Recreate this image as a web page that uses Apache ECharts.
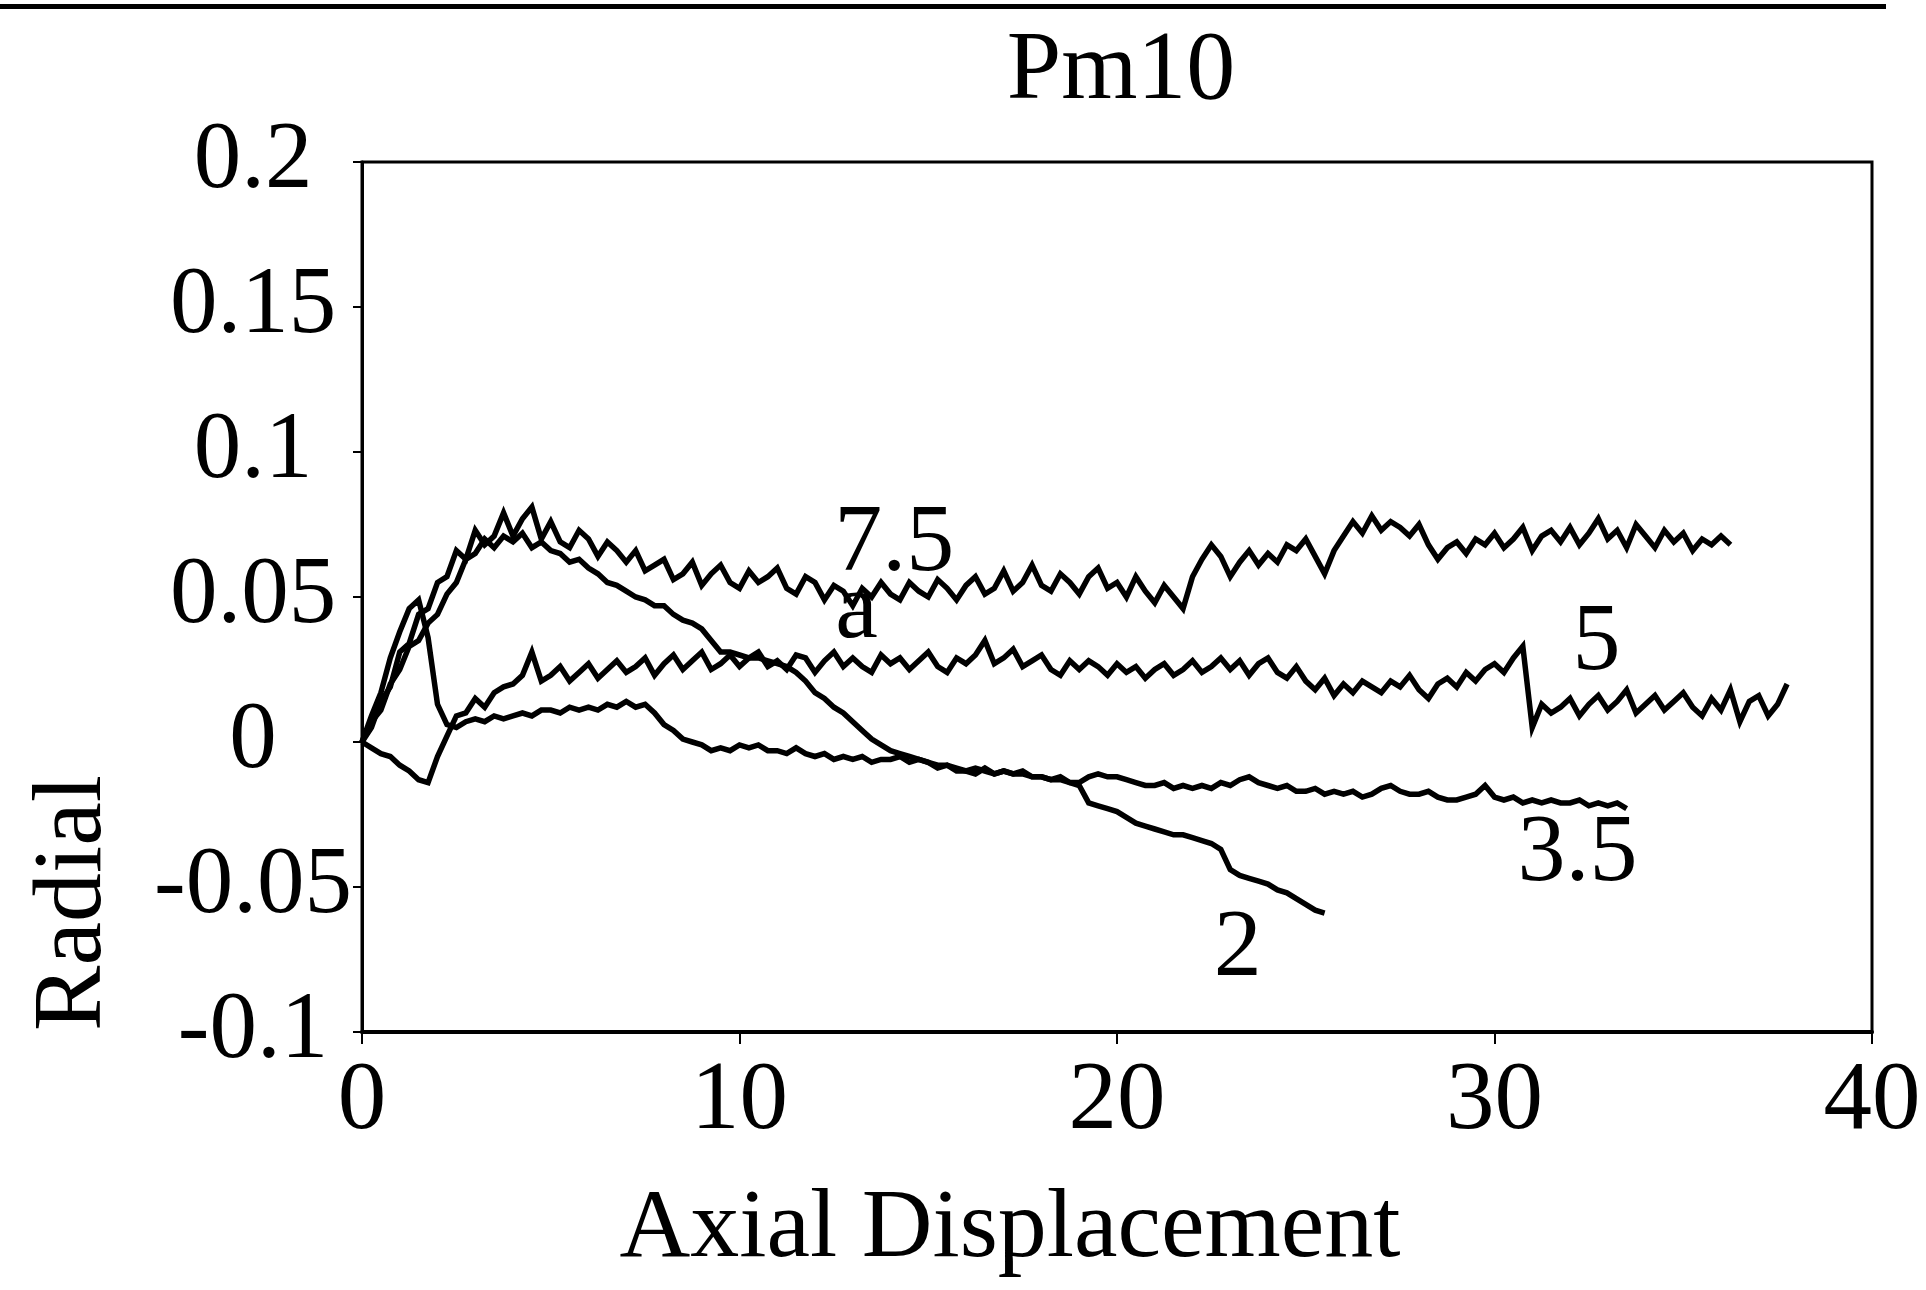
<!DOCTYPE html>
<html>
<head>
<meta charset="utf-8">
<script src="https://cdn.jsdelivr.net/npm/echarts@6/dist/echarts.min.js"></script>
<style>
html,body{margin:0;padding:0;background:#fff;}
#chart{width:1926px;height:1290px;}
</style>
</head>
<body>
<div id="chart"></div>
<script>
// ---- data (x sampled every STEP units of axial displacement, starting at 0) ----
const STEP = 0.25;
const TITLE = 'Pm10';
const X_NAME = 'Axial Displacement';
const Y_NAME = 'Radial';
const X_TICKS = [0, 10, 20, 30, 40];
const Y_TICKS = [-0.1, -0.05, 0, 0.05, 0.1, 0.15, 0.2];

const s75 = [
  0.000, 0.005, 0.014, 0.019,  0.031, 0.034, 0.044, 0.046,  0.055, 0.057, 0.066, 0.063,
  0.073, 0.068, 0.071, 0.079,  0.071, 0.077, 0.081, 0.070,  0.076, 0.069, 0.067, 0.073,
  0.070, 0.064, 0.069, 0.066,  0.062, 0.066, 0.059, 0.061,  0.063, 0.056, 0.058, 0.062,
  0.054, 0.058, 0.061, 0.055,  0.053, 0.059, 0.055, 0.057,  0.060, 0.053, 0.051, 0.057,
  0.055, 0.049, 0.054, 0.052,  0.047, 0.053, 0.050, 0.055,  0.051, 0.049, 0.055, 0.052,
  0.050, 0.056, 0.053, 0.049,  0.054, 0.057, 0.051, 0.053,  0.059, 0.052, 0.055, 0.061,
  0.054, 0.052, 0.058, 0.055,  0.051, 0.057, 0.060, 0.053,  0.055, 0.050, 0.057, 0.052,
  0.048, 0.054, 0.050, 0.046,  0.057, 0.063, 0.068, 0.064,  0.057, 0.062, 0.066, 0.061,
  0.065, 0.062, 0.068, 0.066,  0.070, 0.064, 0.058, 0.066,  0.071, 0.076, 0.072, 0.078,
  0.073, 0.076, 0.074, 0.071,  0.075, 0.068, 0.063, 0.067,  0.069, 0.065, 0.070, 0.068,
  0.072, 0.067, 0.070, 0.074,  0.066, 0.071, 0.073, 0.069,  0.074, 0.068, 0.072, 0.077,
  0.070, 0.073, 0.067, 0.075,  0.071, 0.067, 0.073, 0.069,  0.072, 0.066, 0.070, 0.068,
  0.071, 0.068
];
const s5 = [
  0.000, -0.002, -0.004, -0.005,  -0.008, -0.010, -0.013, -0.014,  -0.005, 0.002, 0.009, 0.010,
  0.015, 0.012, 0.017, 0.019,  0.020, 0.023, 0.031, 0.021,  0.023, 0.026, 0.021, 0.024,
  0.027, 0.022, 0.025, 0.028,  0.024, 0.026, 0.029, 0.023,  0.027, 0.030, 0.025, 0.028,
  0.031, 0.025, 0.027, 0.030,  0.026, 0.029, 0.031, 0.026,  0.028, 0.025, 0.030, 0.029,
  0.024, 0.028, 0.031, 0.026,  0.029, 0.026, 0.024, 0.030,  0.027, 0.029, 0.025, 0.028,
  0.031, 0.026, 0.024, 0.029,  0.027, 0.030, 0.035, 0.027,  0.029, 0.032, 0.026, 0.028,
  0.030, 0.025, 0.023, 0.028,  0.025, 0.028, 0.026, 0.023,  0.027, 0.024, 0.026, 0.022,
  0.025, 0.027, 0.023, 0.025,  0.028, 0.024, 0.026, 0.029,  0.025, 0.028, 0.023, 0.027,
  0.029, 0.024, 0.022, 0.026,  0.021, 0.018, 0.022, 0.016,  0.020, 0.017, 0.021, 0.019,
  0.017, 0.021, 0.019, 0.023,  0.018, 0.015, 0.020, 0.022,  0.019, 0.024, 0.021, 0.025,
  0.027, 0.024, 0.029, 0.033,  0.005, 0.013, 0.010, 0.012,  0.015, 0.009, 0.013, 0.016,
  0.011, 0.014, 0.018, 0.010,  0.013, 0.016, 0.011, 0.014,  0.017, 0.012, 0.009, 0.015,
  0.011, 0.018, 0.007, 0.014,  0.016, 0.009, 0.013, 0.020
];
const s35 = [
  0.000, 0.009, 0.017, 0.029,  0.038, 0.046, 0.049, 0.036,  0.013, 0.006, 0.005, 0.007,
  0.008, 0.007, 0.009, 0.008,  0.009, 0.010, 0.009, 0.011,  0.011, 0.010, 0.012, 0.011,
  0.012, 0.011, 0.013, 0.012,  0.014, 0.012, 0.013, 0.010,  0.006, 0.004, 0.001, 0.000,
  -0.001, -0.003, -0.002, -0.003,  -0.001, -0.002, -0.001, -0.003,  -0.003, -0.004, -0.002, -0.004,
  -0.005, -0.004, -0.006, -0.005,  -0.006, -0.005, -0.007, -0.006,  -0.006, -0.005, -0.007, -0.006,
  -0.007, -0.009, -0.008, -0.010,  -0.010, -0.011, -0.009, -0.011,  -0.010, -0.011, -0.010, -0.012,
  -0.012, -0.013, -0.012, -0.014,  -0.014, -0.012, -0.011, -0.012,  -0.012, -0.013, -0.014, -0.015,
  -0.015, -0.014, -0.016, -0.015,  -0.016, -0.015, -0.016, -0.014,  -0.015, -0.013, -0.012, -0.014,
  -0.015, -0.016, -0.015, -0.017,  -0.017, -0.016, -0.018, -0.017,  -0.018, -0.017, -0.019, -0.018,
  -0.016, -0.015, -0.017, -0.018,  -0.018, -0.017, -0.019, -0.020,  -0.020, -0.019, -0.018, -0.015,
  -0.019, -0.020, -0.019, -0.021,  -0.020, -0.021, -0.020, -0.021,  -0.021, -0.020, -0.022, -0.021,
  -0.022, -0.021, -0.023
];
const s2 = [
  0.000, 0.007, 0.011, 0.020,  0.025, 0.033, 0.035, 0.041,  0.044, 0.051, 0.055, 0.063,
  0.065, 0.070, 0.067, 0.071,  0.069, 0.072, 0.067, 0.069,  0.066, 0.065, 0.062, 0.063,
  0.060, 0.058, 0.055, 0.054,  0.052, 0.050, 0.049, 0.047,  0.047, 0.044, 0.042, 0.041,
  0.039, 0.035, 0.031, 0.031,  0.030, 0.029, 0.029, 0.028,  0.027, 0.026, 0.024, 0.021,
  0.017, 0.015, 0.012, 0.010,  0.007, 0.004, 0.001, -0.001,  -0.003, -0.004, -0.005, -0.006,
  -0.007, -0.008, -0.008, -0.009,  -0.010, -0.009, -0.010, -0.011,  -0.010, -0.011, -0.011, -0.012,
  -0.012, -0.013, -0.013, -0.014,  -0.015, -0.021, -0.022, -0.023,  -0.024, -0.026, -0.028, -0.029,
  -0.030, -0.031, -0.032, -0.032,  -0.033, -0.034, -0.035, -0.037,  -0.044, -0.046, -0.047, -0.048,
  -0.049, -0.051, -0.052, -0.054,  -0.056, -0.058, -0.059
];
// curve annotations: [x, y, text]
const curveLabels = [
  [14.1, 0.068, '7.5'],
  [13.1, 0.045, 'a'],
  [32.7, 0.034, '5'],
  [32.2, -0.039, '3.5'],
  [23.2, -0.0715, '2']
];

// ---- chart ----
const FONT = '"Liberation Serif", "Times New Roman", serif';
const toPairs = ys => ys.map((y, i) => [i * STEP, y]);
const lineSeries = (name, ys) => ({
  name, type: 'line', data: toPairs(ys), showSymbol: false, symbol: 'none',
  lineStyle: { color: '#000', width: 5.5, join: 'miter' }, itemStyle: { color: '#000' },
  animation: false, z: 3
});

const chart = echarts.init(document.getElementById('chart'), null, { renderer: 'canvas' });
chart.setOption({
  backgroundColor: '#fff',
  animation: false,
  grid: { left: 362, right: 54, top: 162, bottom: 258, show: true, borderColor: '#000', borderWidth: 3, backgroundColor: 'transparent' },
  xAxis: {
    type: 'value', min: X_TICKS[0], max: X_TICKS[X_TICKS.length - 1], interval: 10,
    axisLine: { show: true, onZero: false, lineStyle: { color: '#000', width: 4 } },
    axisTick: { show: true, inside: false, length: 12, lineStyle: { color: '#000', width: 2 } },
    splitLine: { show: false },
    axisLabel: { color: '#000', fontFamily: FONT, fontSize: 97, margin: 22 }
  },
  yAxis: {
    type: 'value', min: Y_TICKS[0], max: Y_TICKS[Y_TICKS.length - 1], interval: 0.05,
    axisLine: { show: true, onZero: false, lineStyle: { color: '#000', width: 3 } },
    axisTick: { show: true, inside: false, length: 9, lineStyle: { color: '#000', width: 2 } },
    splitLine: { show: false },
    axisLabel: {
      color: '#000', fontFamily: FONT, fontSize: 95, align: 'center', margin: 109,
      formatter: v => String(Math.round(v * 100) / 100)
    }
  },
  series: [
    lineSeries('7.5', s75),
    lineSeries('5', s5),
    lineSeries('3.5', s35),
    lineSeries('2', s2),
    {
      type: 'scatter', data: curveLabels, symbolSize: 0, z: 4,
      itemStyle: { color: '#000', opacity: 1 },
      label: { show: true, position: 'inside', formatter: p => p.data[2], color: '#000', opacity: 1, textBorderWidth: 0, fontFamily: FONT, fontSize: 96 },
      emphasis: { disabled: true },
      animation: false, silent: true
    }
  ],
  graphic: [
    { type: 'rect', shape: { x: 0, y: 4, width: 1886, height: 5 }, style: { fill: '#000' } },
    { type: 'text', x: 1121, y: 72, style: { text: TITLE, font: '98px ' + FONT, fill: '#000', align: 'center', verticalAlign: 'middle' } },
    { type: 'text', x: 1010, y: 1230, style: { text: X_NAME, font: '98px ' + FONT, fill: '#000', align: 'center', verticalAlign: 'middle' } },
    { type: 'text', x: 74, y: 903, rotation: Math.PI / 2, style: { text: Y_NAME, font: '98px ' + FONT, fill: '#000', align: 'center', verticalAlign: 'middle' } }
  ]
});
</script>
</body>
</html>
